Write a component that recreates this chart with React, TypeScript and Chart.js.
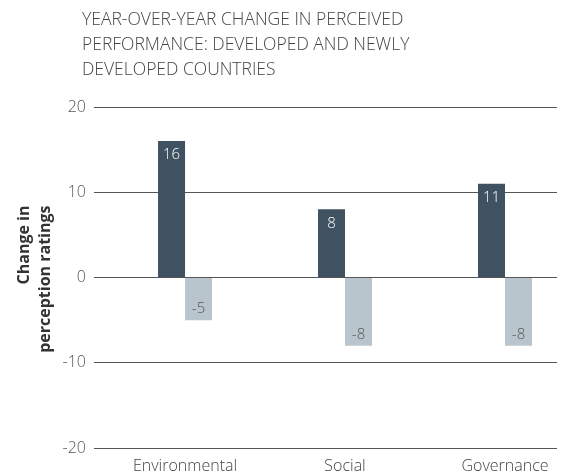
import React, { useEffect, useRef } from "react";
import { Chart, registerables } from "chart.js";

Chart.register(...registerables);

const categories = ["Environmental", "Social", "Governance"];
const developedValues = [16, 8, 11];
const newlyDevelopedValues = [-5, -8, -8];
const seriesNames = ["Developed countries", "Newly developed countries"];
const yTickValues = [-20, -10, 0, 10, 20];
const titleLines = [
  "YEAR-OVER-YEAR CHANGE IN PERCEIVED",
  "PERFORMANCE: DEVELOPED AND NEWLY",
  "DEVELOPED COUNTRIES",
];
const yTitleLines = ["Change in", "perception ratings"];

const FONT = "'Open Sans', sans-serif";
const DARK = "#405261";
const LIGHT = "#b9c5cd";

const valueLabelPlugin = {
  id: "valueLabels",
  afterDatasetsDraw(chart: any) {
    const { ctx } = chart;
    ctx.save();
    ctx.font = `300 15px ${FONT}`;
    ctx.textAlign = "center";
    ctx.textBaseline = "middle";
    chart.data.datasets.forEach((ds: any, di: number) => {
      const meta = chart.getDatasetMeta(di);
      meta.data.forEach((bar: any, i: number) => {
        const v = ds.data[i].y;
        ctx.fillStyle = v >= 0 ? "#ffffff" : "#555555";
        ctx.fillText(String(v), bar.x, v >= 0 ? bar.y + 14 : bar.y - 11);
      });
    });
    ctx.restore();
  },
};

const yTitlePlugin = {
  id: "yTitle",
  afterDraw(chart: any) {
    const { ctx, chartArea } = chart;
    const mid = (chartArea.top + chartArea.bottom) / 2;
    const endY = mid - 72;
    ctx.save();
    ctx.font = `bold 16px ${FONT}`;
    ctx.fillStyle = "#333333";
    ctx.textAlign = "right";
    ctx.textBaseline = "alphabetic";
    yTitleLines.forEach((line, i) => {
      ctx.save();
      ctx.translate(29 + i * 21, endY);
      ctx.rotate(-Math.PI / 2);
      ctx.fillText(line, 0, 0);
      ctx.restore();
    });
    ctx.restore();
  },
};

export default function App() {
  const canvasRef = useRef<HTMLCanvasElement | null>(null);

  useEffect(() => {
    if (!canvasRef.current) return;
    const chart = new Chart(canvasRef.current, {
      type: "bar",
      data: {
        datasets: [
          {
            label: seriesNames[0],
            data: developedValues.map((v, i) => ({ x: i, y: v })),
            backgroundColor: DARK,
            borderWidth: 0,
          },
          {
            label: seriesNames[1],
            data: newlyDevelopedValues.map((v, i) => ({ x: i, y: v })),
            backgroundColor: LIGHT,
            borderWidth: 0,
          },
        ],
      },
      options: {
        animation: false,
        responsive: false,
        maintainAspectRatio: false,
        layout: { padding: { top: 107, right: 10, left: 0, bottom: 0 } },
        datasets: {
          bar: { categoryPercentage: 0.3375, barPercentage: 1 },
        },
        plugins: {
          legend: { display: false },
          title: { display: false },
          tooltip: { enabled: false },
        },
        scales: {
          x: {
            type: "linear",
            offset: false,
            min: -0.569,
            max: 2.325,
            grid: { display: false, drawTicks: false },
            border: { display: false },
            afterBuildTicks(scale: any) {
              scale.ticks = categories.map((_, i) => ({ value: i }));
            },
            afterFit(scale: any) {
              scale.height = 26;
            },
            ticks: {
              padding: 9,
              maxRotation: 0,
              autoSkip: false,
              color: "#444444",
              font: { family: FONT, size: 16, weight: "300" },
              callback: (value: any) => categories[Number(value)] ?? "",
            },
          },
          y: {
            min: -20,
            max: 20,
            afterBuildTicks(scale: any) {
              scale.ticks = yTickValues.map((v) => ({ value: v }));
            },
            afterFit(scale: any) {
              scale.width = 94;
            },
            grid: { color: "#555555", lineWidth: 1, drawTicks: false },
            border: { display: false },
            ticks: {
              padding: 8,
              color: "#555555",
              font: { family: FONT, size: 16, weight: "300" },
            },
          },
        },
      },
      plugins: [valueLabelPlugin, yTitlePlugin],
    });
    return () => chart.destroy();
  }, []);

  return (
    <div style={{ position: "absolute", left: 0, top: 0, width: 567, height: 474 }}>
      <canvas
        ref={canvasRef}
        width={567}
        height={474}
        style={{ position: "absolute", left: 0, top: 0, width: 567, height: 474 }}
      />
      <div
        style={{
          position: "absolute",
          left: 82,
          top: 6,
          fontFamily: FONT,
          fontWeight: 300,
          fontSize: 17.5,
          lineHeight: "25px",
          color: "#444444",
          whiteSpace: "nowrap",
        }}
      >
        {titleLines.map((l) => (
          <div key={l}>{l}</div>
        ))}
      </div>
    </div>
  );
}
